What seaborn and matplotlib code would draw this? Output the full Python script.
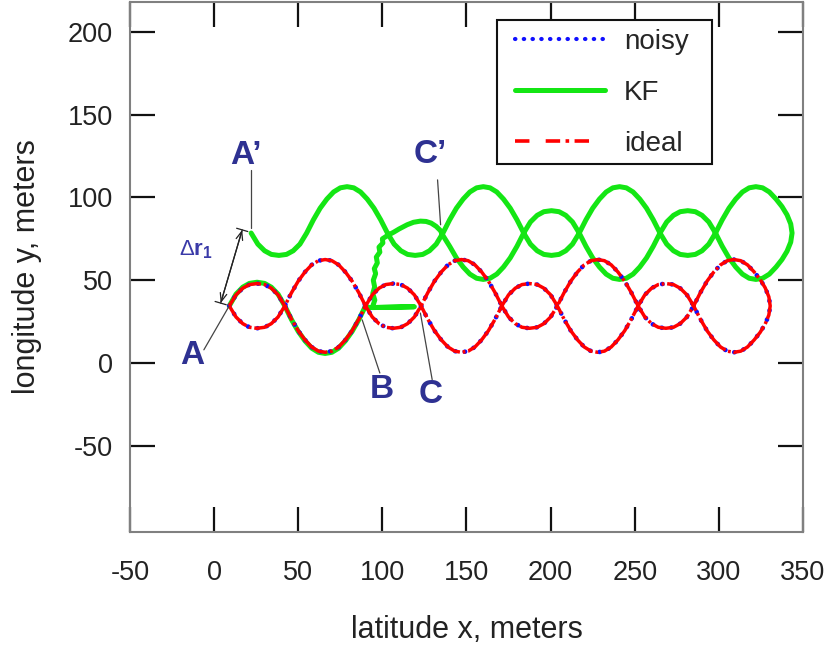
import matplotlib
matplotlib.use("Agg")
import matplotlib.pyplot as plt
from matplotlib.lines import Line2D
from matplotlib.patches import Rectangle
import seaborn as sns

# ---------------------------------------------------------------
# Trajectory data (metres)
# ---------------------------------------------------------------
# ideal path: outbound leg from A along the figure-eight chain,
# round the right-hand end and back along the mirrored leg to A
ideal_x = [
    9, 13, 17, 21, 25.5, 30, 34, 38, 42,
    46, 50, 54, 58, 62, 66, 70, 74, 78, 82, 86, 90,
    94, 98, 102, 106.5, 111, 115, 119, 123,
    127, 131, 135, 139, 143, 147, 151, 155, 159, 163, 167, 171,
    175, 179, 183, 187.5, 192, 196, 200, 204,
    208, 212, 216, 220, 224, 228, 232, 236, 240, 244, 248, 252,
    256, 260, 264, 268.5, 273, 277, 281, 285,
    289, 293, 297, 301, 305, 309, 313, 317, 321, 324.5, 327.5, 329.7, 330.5,
    329.7, 327.5, 324.5, 321, 317, 313, 309, 305, 301, 297, 293, 289, 285,
    281, 277, 273, 268.5, 264, 260, 256, 252,
    248, 244, 240, 236, 232, 228, 224, 220, 216, 212, 208, 204,
    200, 196, 192, 187.5, 183, 179, 175, 171,
    167, 163, 159, 155, 151, 147, 143, 139, 135, 131, 127, 123,
    119, 115, 111, 106.5, 102, 98, 94, 90,
    86, 82, 78, 74, 70, 66, 62, 58, 54, 50, 46, 42,
    38, 34, 30, 25.5, 21, 17, 13, 9,
]
ideal_y = [
    34.5, 41.2, 45.2, 47.4, 48, 47.4, 45.2, 41.2, 34.5,
    26.5, 19.5, 14, 9.7, 7.2, 6.5, 7.2, 9.7, 14, 19.5, 26.5, 34.5,
    41.2, 45.2, 47.4, 48, 47.4, 45.2, 41.2, 34.5,
    26.5, 19.5, 14, 9.7, 7.2, 6.5, 7.2, 9.7, 14, 19.5, 26.5, 34.5,
    41.2, 45.2, 47.4, 48, 47.4, 45.2, 41.2, 34.5,
    26.5, 19.5, 14, 9.7, 7.2, 6.5, 7.2, 9.7, 14, 19.5, 26.5, 34.5,
    41.2, 45.2, 47.4, 48, 47.4, 45.2, 41.2, 34.5,
    26.5, 19.5, 14, 9.7, 7.2, 6.5, 7.2, 9.7, 14, 18.5, 23.5, 29, 34.5,
    40, 45.5, 50.5, 55, 59.3, 61.8, 62.5, 61.8, 59.3, 55, 49.5, 42.5, 34.5,
    27.8, 23.8, 21.6, 21, 21.6, 23.8, 27.8, 34.5,
    42.5, 49.5, 55, 59.3, 61.8, 62.5, 61.8, 59.3, 55, 49.5, 42.5, 34.5,
    27.8, 23.8, 21.6, 21, 21.6, 23.8, 27.8, 34.5,
    42.5, 49.5, 55, 59.3, 61.8, 62.5, 61.8, 59.3, 55, 49.5, 42.5, 34.5,
    27.8, 23.8, 21.6, 21, 21.6, 23.8, 27.8, 34.5,
    42.5, 49.5, 55, 59.3, 61.8, 62.5, 61.8, 59.3, 55, 49.5, 42.5, 34.5,
    27.8, 23.8, 21.6, 21, 21.6, 23.8, 27.8, 34.5,
]

# noisy GPS fixes coincide with the ideal path at this scale
noisy_x = ideal_x
noisy_y = ideal_y

# Kalman-filter estimate: tracks the path A -> B, jumps towards C,
# climbs to C' and then follows the offset (A') copy of the path
kf_x = [
    9, 13, 17, 21, 25.5, 30, 34, 38, 42,
    46, 50, 54, 58, 62, 66, 70, 74, 78, 82, 86, 90,
    92, 119, 94,
    95.5, 94.3, 95.4, 94.6, 96, 95.2, 97, 96.4, 98.5, 98, 100.3, 100,
    103, 106.7, 110, 114.7, 118.5, 122.6, 126, 129, 132, 134.5,
    136, 140, 144, 148, 152, 156, 160, 164, 168, 172, 176, 180, 184,
    188, 192, 196, 200.5, 205, 209, 213, 217,
    221, 225, 229, 233, 237, 241, 245, 249, 253, 257, 261, 265,
    269, 273, 277, 281.5, 286, 290, 294, 298,
    302, 306, 310, 314, 318, 322, 326, 330, 334, 337.5, 340.5, 342.7, 343.5,
    342.7, 340.5, 337.5, 334, 330, 326, 322, 318, 314, 310, 306, 302, 298,
    294, 290, 286, 281.5, 277, 273, 269, 265,
    261, 257, 253, 249, 245, 241, 237, 233, 229, 225, 221, 217,
    213, 209, 205, 200.5, 196, 192, 188, 184,
    180, 176, 172, 168, 164, 160, 156, 152, 148, 144, 140, 136,
    132, 128, 124, 119.5, 115, 111, 107, 103,
    99, 95, 91, 87, 83, 79, 75, 71, 67, 63, 59, 55,
    51, 47, 43, 38.5, 34, 30, 26, 22,
]
kf_y = [
    34.5, 41.6, 45.8, 48.1, 48.8, 48.1, 45.8, 41.6, 34.5,
    26.2, 19.1, 13.4, 9, 6.5, 5.8, 6.5, 9, 13.4, 19.1, 26.2, 34.5,
    33.5, 34, 33.5,
    38, 42, 46, 50, 54, 57, 60.5, 64, 67, 70, 72.5, 75,
    77, 79, 81, 83.5, 85, 85.7, 85.5, 84.5, 82.5, 80,
    77, 70.5, 63.5, 58, 53.7, 51.2, 50.5, 51.2, 53.7, 58, 63.5, 70.5, 78.5,
    85.2, 89.2, 91.4, 92, 91.4, 89.2, 85.2, 78.5,
    70.5, 63.5, 58, 53.7, 51.2, 50.5, 51.2, 53.7, 58, 63.5, 70.5, 78.5,
    85.2, 89.2, 91.4, 92, 91.4, 89.2, 85.2, 78.5,
    70.5, 63.5, 58, 53.7, 51.2, 50.5, 51.2, 53.7, 58, 62.5, 67.5, 73, 78.5,
    84, 89.5, 94.5, 99, 103.3, 105.8, 106.5, 105.8, 103.3, 99, 93.5, 86.5, 78.5,
    71.8, 67.8, 65.6, 65, 65.6, 67.8, 71.8, 78.5,
    86.5, 93.5, 99, 103.3, 105.8, 106.5, 105.8, 103.3, 99, 93.5, 86.5, 78.5,
    71.8, 67.8, 65.6, 65, 65.6, 67.8, 71.8, 78.5,
    86.5, 93.5, 99, 103.3, 105.8, 106.5, 105.8, 103.3, 99, 93.5, 86.5, 78.5,
    71.8, 67.8, 65.6, 65, 65.6, 67.8, 71.8, 78.5,
    86.5, 93.5, 99, 103.3, 105.8, 106.5, 105.8, 103.3, 99, 93.5, 86.5, 78.5,
    71.8, 67.8, 65.6, 65, 65.6, 67.8, 71.8, 78.5,
]

series_labels = ["noisy", "KF", "ideal"]
x_ticks = [-50, 0, 50, 100, 150, 200, 250, 300, 350]
y_ticks = [-50, 0, 50, 100, 150, 200]

# point labels: text, label position, leader-line start, leader-line end
point_labels = [
    ("A\u2019", (18.7, 125.5), (21.7, 116.5), (21.7, 81.5)),
    ("A", (-12.8, 4.5), (-6.1, 8.0), (8.8, 34.2)),
    ("B", (99.5, -16.0), (98.5, -6.0), (88.0, 26.1)),
    ("C", (128.6, -19.0), (129.6, -10.0), (122.6, 30.2)),
    ("C\u2019", (128.6, 125.7), (132.8, 110.6), (134.6, 83.5)),
]
offset_start = (3.9, 36.2)
offset_end = (16.7, 80.4)

# ---------------------------------------------------------------
sns.set_theme(style="white")
plt.rcParams["font.family"] = ["Liberation Sans", "DejaVu Sans"]
plt.rcParams["mathtext.fontset"] = "custom"
plt.rcParams["mathtext.rm"] = "Liberation Sans"
plt.rcParams["mathtext.bf"] = "Liberation Sans:bold"
plt.rcParams["mathtext.it"] = "Liberation Sans:italic"

GREEN = "#14e614"
RED = "#ff0000"
BLUE = "#1010ff"
LABEL_COLOR = "#2e3192"

fig = plt.figure(figsize=(8.28, 6.45), dpi=100)
ax = fig.add_axes([130 / 828, 113 / 645, 673 / 828, 530 / 645])

sns.lineplot(x=kf_x, y=kf_y, sort=False, estimator=None, ax=ax,
             color=GREEN, lw=3.6, solid_joinstyle="round",
             solid_capstyle="round", zorder=2)
sns.lineplot(x=noisy_x, y=noisy_y, sort=False, estimator=None, ax=ax,
             color=BLUE, lw=3.3, linestyle=(0, (0.1, 2.0)),
             dash_capstyle="round", zorder=3)
sns.lineplot(x=ideal_x, y=ideal_y, sort=False, estimator=None, ax=ax,
             color=RED, lw=2.5, linestyle=(0, (12, 0.8, 0.8, 0.8)),
             dash_capstyle="butt", zorder=4)

ax.set_xlim(-50, 350)
ax.set_ylim(-102, 218)
ax.set_xticks(x_ticks)
ax.set_yticks(y_ticks)
ax.set_xticklabels([str(t) for t in x_ticks])
ax.set_yticklabels([str(t) for t in y_ticks])

for side in ["left", "right", "top", "bottom"]:
    ax.spines[side].set_visible(True)
    ax.spines[side].set_color("#808080")
    ax.spines[side].set_linewidth(1.5)

ax.tick_params(axis="both", which="major", direction="in", length=18,
               width=1.6, color="#111111", top=True, right=True,
               bottom=True, left=True, labelsize=19.5, labelcolor="#222222")
ax.tick_params(axis="x", pad=20)
ax.tick_params(axis="y", pad=12.5)

ax.set_xlabel("latitude x, meters", fontsize=22, color="#222222", labelpad=21)
ax.set_ylabel("longitude y, meters", fontsize=22, color="#222222", labelpad=18)

# point labels and leader lines
for text, (tx, ty), (lx0, ly0), (lx1, ly1) in point_labels:
    ax.plot([lx0, lx1], [ly0, ly1], color="#444444", lw=0.9, zorder=5)
    ax.text(tx, ty, text, fontsize=24, fontweight="bold", color=LABEL_COLOR,
            ha="center", va="center", zorder=6)

# offset between the two tracks: double arrow with end bars
ax.annotate("", xy=offset_end, xytext=offset_start,
            arrowprops=dict(arrowstyle="<->,head_length=0.5,head_width=0.2",
                            color="#222222", lw=0.9, shrinkA=0, shrinkB=0),
            zorder=5)
ax.annotate("", xy=offset_end, xytext=offset_start,
            arrowprops=dict(arrowstyle="|-|,widthA=0.35,widthB=0.35",
                            color="#222222", lw=0.9, shrinkA=0, shrinkB=0),
            zorder=5)
ax.text(-10.6, 68.5, r"$\Delta\mathbf{r}_{\mathbf{1}}$", fontsize=16,
        color="#3a3aa8", ha="center", va="center", zorder=6)

# legend box, then the legend entries inside it
ax.add_patch(Rectangle((0.5453, 0.694), 0.3195, 0.272, transform=ax.transAxes,
                       facecolor="white", edgecolor="#111111", lw=1.5,
                       zorder=9, clip_on=False))
handles = [
    Line2D([], [], color=BLUE, lw=3.0, linestyle=(0, (0.1, 2.0)),
           dash_capstyle="round"),
    Line2D([], [], color=GREEN, lw=3.6),
    Line2D([], [], color=RED, lw=2.6,
           linestyle=(0, (4, 4.5, 4, 1.5, 1, 1.5))),
]
leg = ax.legend(handles, series_labels, loc="upper left",
                bbox_to_anchor=(0.572, 0.949), borderaxespad=0,
                fontsize=20, handlelength=3.24, handletextpad=0.68,
                borderpad=0, labelspacing=0.9, frameon=False)
leg.set_zorder(10)

fig.savefig("out.png", dpi=100)
